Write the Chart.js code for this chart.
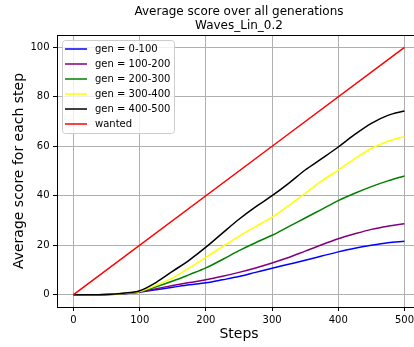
<!DOCTYPE html>
<html>
<head>
<meta charset="utf-8">
<script src="https://cdn.jsdelivr.net/npm/chart.js@4"></script>
<style>
  html, body { margin: 0; padding: 0; background: #fff; overflow: hidden; }
  #wrap { width: 422px; height: 347px; }
</style>
</head>
<body>
<div id="wrap"><canvas id="chart" width="422" height="347"></canvas></div>
<script>
const titleLines = ['Average score over all generations', 'Waves_Lin_0.2'];
const steps = [0, 25, 50, 75, 100, 125, 150, 175, 200, 225, 250, 275, 300, 325, 350, 375, 400, 425, 450, 475, 500];

const gen0 = [0, 0, 0.1, 0.4, 1.0, 2.0, 3.0, 4.0, 4.8, 6.0, 7.3, 9.0, 10.7, 12.3, 13.9, 15.6, 17.3, 18.8, 20.0, 21.0, 21.6];
const gen1 = [0, 0, 0.1, 0.4, 1.1, 2.4, 3.7, 4.9, 6.0, 7.4, 9.0, 10.8, 12.8, 15.0, 17.6, 20.2, 22.6, 24.6, 26.4, 27.7, 28.7];
const gen2 = [0, 0, 0.1, 0.5, 1.3, 3.2, 5.5, 8.1, 10.8, 14.2, 17.8, 21.0, 24.0, 27.5, 31.0, 34.5, 38.0, 41.0, 43.7, 46.0, 48.0];
const gen3 = [0, 0, 0.1, 0.5, 1.3, 3.8, 6.8, 10.8, 15.1, 19.4, 23.6, 27.5, 31.3, 36.0, 41.0, 46.0, 50.4, 55.0, 59.1, 62.0, 64.0];
const gen4 = [0, 0, 0.1, 0.6, 1.6, 5.0, 9.5, 14.0, 19.2, 24.9, 30.5, 35.5, 40.0, 45.0, 50.4, 55.0, 59.7, 64.8, 69.3, 72.5, 74.3];
const wantedSteps = [0, 500];
const wanted = [0, 100];

const labels = ['gen = 0-100', 'gen = 100-200', 'gen = 200-300', 'gen = 300-400', 'gen = 400-500', 'wanted'];
const colors = ['#0000ff', '#800080', '#008000', '#ffff00', '#000000', '#ff0000'];
const xTicks = [0, 100, 200, 300, 400, 500];
const yTicks = [0, 20, 40, 60, 80, 100];

function toPoints(xs, ys) {
    return xs.map((x, i) => ({ x: x, y: ys[i] }));
}

const series = [gen0, gen1, gen2, gen3, gen4];
const datasets = series.map((s, i) => ({
    label: labels[i],
    data: toPoints(steps, s),
    borderColor: colors[i],
    order: 10 - i
}));
datasets.push({ label: labels[5], data: toPoints(wantedSteps, wanted), borderColor: colors[5], order: 1 });

// title, top spine and legend drawn like matplotlib
const extras = {
    id: 'extras',
    afterDraw(chart) {
        const ctx = chart.ctx;
        const area = chart.chartArea;
        ctx.save();
        ctx.strokeStyle = '#000';
        ctx.lineWidth = 1;
        ctx.beginPath();
        ctx.moveTo(area.left, Math.round(area.top) + 0.5);
        ctx.lineTo(area.right, Math.round(area.top) + 0.5);
        ctx.stroke();

        ctx.fillStyle = '#000';
        ctx.font = '12px "DejaVu Sans"';
        ctx.textAlign = 'center';
        ctx.textBaseline = 'middle';
        const cx = (area.left + area.right) / 2;
        titleLines.forEach((t, i) => ctx.fillText(t, cx, 12 + i * 14));

        // legend box
        const bx = 62.5, by = 40.5, bw = 112, bh = 93;
        ctx.beginPath();
        ctx.roundRect(bx, by, bw, bh, 3);
        ctx.fillStyle = 'rgba(255,255,255,0.8)';
        ctx.fill();
        ctx.strokeStyle = '#cccccc';
        ctx.stroke();
        ctx.font = '10px "DejaVu Sans"';
        ctx.textAlign = 'left';
        chart.data.datasets.forEach((ds, i) => {
            const y = 49 + i * 15;
            ctx.strokeStyle = ds.borderColor;
            ctx.lineWidth = 1.5;
            ctx.beginPath();
            ctx.moveTo(65, y);
            ctx.lineTo(87, y);
            ctx.stroke();
            ctx.fillStyle = '#000';
            ctx.fillText(ds.label, 95, y);
        });
        ctx.restore();
    }
};

new Chart(document.getElementById('chart'), {
    type: 'line',
    data: { datasets: datasets },
    plugins: [extras],
    options: {
        responsive: false,
        animation: false,
        devicePixelRatio: 1,
        layout: { padding: { top: 35, right: 1, left: 0, bottom: 0 } },
        elements: {
            point: { radius: 0 },
            line: { borderWidth: 1.5, cubicInterpolationMode: 'monotone', fill: false }
        },
        plugins: {
            legend: { display: false },
            title: { display: false },
            tooltip: { enabled: false }
        },
        scales: {
            x: {
                type: 'linear',
                min: -25,
                max: 525,
                afterBuildTicks: s => { s.ticks = xTicks.map(v => ({ value: v })); },
                afterFit: s => { s.height = 40; },
                grid: { color: '#b0b0b0', lineWidth: 1, tickLength: 4, tickColor: '#000' },
                border: { color: '#000', width: 1 },
                ticks: { color: '#000', font: { family: 'DejaVu Sans', size: 10 }, padding: 3.5, maxRotation: 0 },
                title: { display: true, text: 'Steps', color: '#000', font: { family: 'DejaVu Sans', size: 14 }, padding: { top: 0, bottom: 4.6 } }
            },
            y: {
                min: -5,
                max: 105,
                afterBuildTicks: s => { s.ticks = yTicks.map(v => ({ value: v })); },
                afterFit: s => { s.width = 57; },
                grid: { color: '#b0b0b0', lineWidth: 1, tickLength: 4, tickColor: '#000' },
                border: { color: '#000', width: 1 },
                ticks: { color: '#000', font: { family: 'DejaVu Sans', size: 10 }, padding: 3.5 },
                title: { display: true, text: 'Average score for each step', color: '#000', font: { family: 'DejaVu Sans', size: 14 }, padding: { top: 10.6, bottom: 0 } }
            }
        }
    }
});
</script>
</body>
</html>
